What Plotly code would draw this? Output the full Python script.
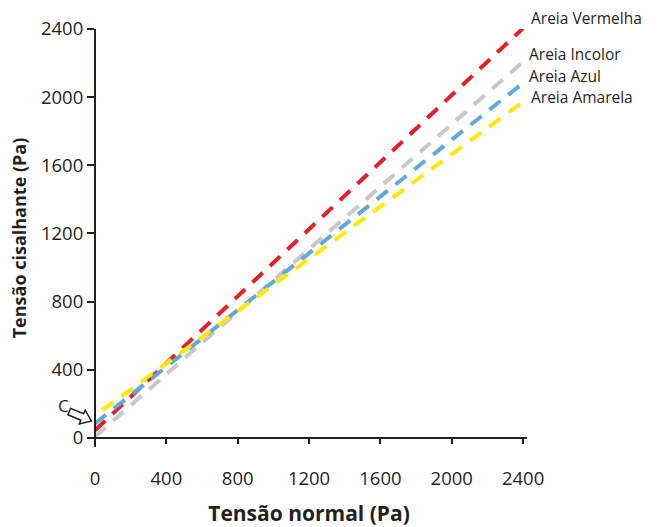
import numpy as np
import plotly.graph_objects as go

# Linear fits of shear stress vs normal stress for each sand
x_end = 2400
series_names = ["Areia Vermelha", "Areia Incolor", "Areia Azul", "Areia Amarela"]
x_start = [0, 0, 0, 40]
y_start = [45, 8, 85, 162]
y_end = [2405, 2208, 2083, 1972]
colors = ["#ED1C24", "#C8C8C8", "#5FA9DD", "#FFEA00"]

# label anchors (data units) next to the line ends
label_x = [2440, 2428, 2428, 2440]
label_y = [2465, 2256, 2126, 2000]

x_ticks = [0, 400, 800, 1200, 1600, 2000, 2400]
y_ticks = [0, 400, 800, 1200, 1600, 2000, 2400]

X_RANGE = [-22.4, 2422]
Y_RANGE = [-53, 2400]
M_L, M_R, M_T, M_B = 91, 132, 29, 80
W, H = 659, 527
PW, PH = W - M_L - M_R, H - M_T - M_B

font_reg = "Open Sans"
ink = "#231F20"


def to_paper(x, y):
    return ((x - X_RANGE[0]) / (X_RANGE[1] - X_RANGE[0]),
            (y - Y_RANGE[0]) / (Y_RANGE[1] - Y_RANGE[0]))


fig = go.Figure()
for name, xs, ys, ye, col in zip(series_names, x_start, y_start, y_end, colors):
    fig.add_trace(go.Scatter(
        x=[xs, x_end], y=[ys, ye], mode="lines", name=name,
        line=dict(color=col, width=4, dash="14px,10px"),
        showlegend=False, hoverinfo="skip",
    ))

for name, lx, ly in zip(series_names, label_x, label_y):
    px, py = to_paper(lx, ly)
    fig.add_annotation(x=px, y=py, xref="paper", yref="paper", text=name,
                       showarrow=False, xanchor="left", yanchor="middle",
                       borderpad=0,
                       font=dict(family=font_reg, size=15.5, color=ink))

# intercept marker "C" with a hollow block arrow pointing at the y axis
cx, cy = to_paper(-219, 110)
fig.add_annotation(x=cx, y=cy, xref="paper", yref="paper", text="C",
                   showarrow=False, font=dict(family=font_reg, size=17, color=ink))

tip_x, tip_y = to_paper(-20, 100)
ang = np.deg2rad(-23)
local = np.array([[-24, 3.5], [-10, 3.5], [-10, 7.5], [0, 0],
                  [-10, -7.5], [-10, -3.5], [-24, -3.5]])
rot = np.array([[np.cos(ang), -np.sin(ang)], [np.sin(ang), np.cos(ang)]])
pts = local @ rot.T
path = "M " + " L ".join(
    f"{tip_x + px / PW:.5f},{tip_y + py / PH:.5f}" for px, py in pts) + " Z"
fig.add_shape(type="path", xref="paper", yref="paper", path=path,
              line=dict(color=ink, width=1.5), fillcolor="white")

axis_font = dict(family=font_reg, size=18.5, color=ink)
fig.update_layout(
    width=W, height=H,
    margin=dict(l=M_L, r=M_R, t=M_T, b=M_B, autoexpand=False),
    paper_bgcolor="white", plot_bgcolor="white",
    xaxis=dict(
        range=X_RANGE, tickvals=x_ticks, ticks="outside", ticklen=5,
        tickwidth=2, tickcolor=ink, showline=True, linecolor=ink,
        linewidth=2, showgrid=False, zeroline=False, anchor="free",
        position=to_paper(0, 0)[1], tickfont=axis_font, ticklabelstandoff=19,
        automargin=False,
        title=dict(text="<b>Tensão normal (Pa)</b>", standoff=22,
                   font=dict(family=font_reg, size=21, color=ink)),
    ),
    yaxis=dict(
        range=Y_RANGE, tickvals=y_ticks, ticks="outside", ticklen=7,
        tickwidth=2, tickcolor=ink, showline=True, linecolor=ink,
        linewidth=2, showgrid=False, zeroline=False, anchor="free",
        position=to_paper(0, 0)[0], tickfont=axis_font, automargin=False,
        title=dict(text="<b>Tensão cisalhante (Pa)</b>", standoff=9,
                   font=dict(family=font_reg, size=18, color=ink)),
    ),
)

fig.write_html("out.html")
